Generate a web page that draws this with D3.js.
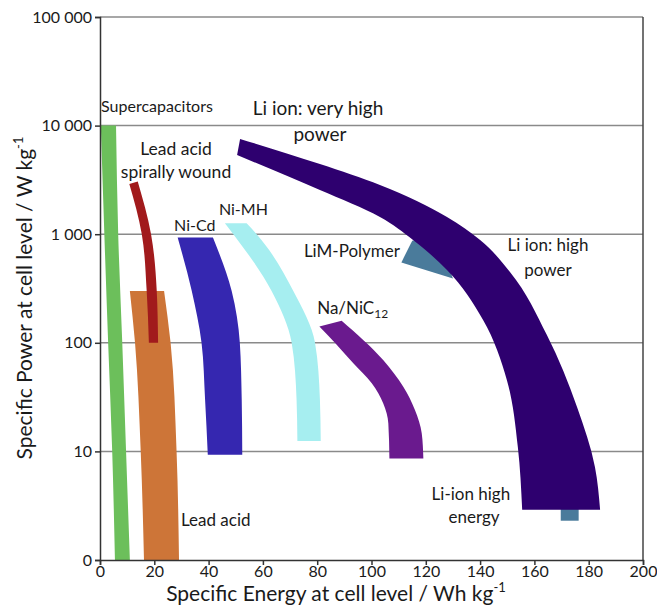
<!DOCTYPE html>
<html>
<head>
<meta charset="utf-8">
<script src="https://cdn.jsdelivr.net/npm/d3@7/dist/d3.min.js"></script>
<style>
  body { margin: 0; background: #fff; }
  text { font-family: Lato, "Liberation Sans", sans-serif; fill: #1a1a1a; }
</style>
</head>
<body>
<script>
// Ragone plot: each technology is a band, [energy Wh/kg, power W/kg] along both edges
const supercapLeft  = [[0.3, 10000], [1.6, 1000], [3.0, 100], [4.5, 10], [5.5, 1]];
const supercapRight = [[5.9, 10000], [6.7, 1000], [8.2, 100], [9.6, 10], [11.0, 1]];

const leadAcidLeft  = [[11.0, 300], [12.9, 100], [15.0, 10], [16.2, 1]];
const leadAcidRight = [[23.6, 300], [26.0, 100], [28.2, 10], [29.1, 1]];

const spiralLeft  = [[10.8, 2900], [15.4, 1000], [17.2, 300], [18.0, 100]];
const spiralRight = [[13.9, 3050], [18.8, 1000], [20.9, 300], [21.4, 100]];

const niCdLeft  = [[28.6, 930], [33.8, 300], [37.4, 100], [38.7, 30], [39.7, 9.3]];
const niCdRight = [[41.6, 930], [48.5, 300], [51.5, 100], [52.2, 30], [52.4, 9.3]];

const niMhLeft  = [[46.0, 1260], [49.1, 1000], [63.2, 300], [70.6, 100], [72.4, 30], [72.7, 12.5]];
const niMhRight = [[54.0, 1260], [57.7, 1000], [71.2, 300], [79.2, 100], [81.0, 30], [81.3, 12.5]];

const naNiLeft  = [[80.8, 141], [86.6, 99.5], [93.3, 64.7], [100.1, 42.4], [104.3, 27.7], [106.2, 18.1], [106.6, 8.6]];
const naNiRight = [[89.0, 160], [104.3, 69.5], [111.7, 39.4], [116.0, 24.1], [118.5, 14.7], [119.1, 8.6]];

const liPolymer = [[111, 550], [115, 870], [124, 1000], [130, 390]];
const liHighEnergy = [[169.7, 2.3], [176.3, 2.3], [176.3, 3.2], [169.7, 3.2]];

const liIonOuter = [[51.6, 7530], [81.0, 4420], [103.1, 2840], [127.8, 1440], [140.0, 885],
                    [151.0, 449], [164.6, 118], [175.7, 25.6], [182.3, 7.2], [184.2, 2.9]];
const liIonInner = [[50.5, 5360], [81.0, 2550], [103.1, 1440], [115.3, 885], [127.8, 468],
                    [141.1, 162], [149.9, 45], [153.9, 11], [155.5, 2.9]];

const xTicks = [0, 20, 40, 60, 80, 100, 120, 140, 160, 180, 200];
const yTicks = [1, 10, 100, 1000, 10000, 100000];
const yTickLabels = ["0", "10", "100", "1 000", "10 000", "100 000"];

const width = 657, height = 606;
const margin = {top: 17, right: 14, bottom: 46, left: 100};

const svg = d3.select("body").append("svg")
  .attr("width", width)
  .attr("height", height);

const x = d3.scaleLinear().domain([0, 200]).range([margin.left, width - margin.right]);
const y = d3.scaleLog().domain([1, 100000]).range([height - margin.bottom, margin.top]);

// gridlines
svg.append("g")
  .selectAll("line")
  .data(yTicks.slice(1))
  .enter().append("line")
  .attr("x1", x(0)).attr("x2", x(200))
  .attr("y1", d => y(d)).attr("y2", d => y(d))
  .attr("stroke", "#8a8a8a")
  .attr("stroke-width", 1.5);

// right border
svg.append("line")
  .attr("x1", x(200)).attr("x2", x(200))
  .attr("y1", y(1)).attr("y2", y(100000))
  .attr("stroke", "#444").attr("stroke-width", 1.5);

const edge = d3.line()
  .x(d => x(d[0]))
  .y(d => y(d[1]))
  .curve(d3.curveMonotoneY);

const flat = d3.line().x(d => x(d[0])).y(d => y(d[1]));

function band(left, right) {
  return edge(left) + "L" + edge(right.slice().reverse()).slice(1) + "Z";
}

const bands = [
  {left: supercapLeft, right: supercapRight, color: "#6cbf5b"},
  {left: leadAcidLeft, right: leadAcidRight, color: "#cd7538"},
  {left: spiralLeft, right: spiralRight, color: "#a11a1c"},
  {left: niCdLeft, right: niCdRight, color: "#3527b0"},
  {left: niMhLeft, right: niMhRight, color: "#a6eef0"},
  {left: naNiLeft, right: naNiRight, color: "#6a1a8e"}
];

svg.append("g")
  .selectAll("path")
  .data(bands)
  .enter().append("path")
  .attr("d", d => band(d.left, d.right))
  .attr("fill", d => d.color);

svg.append("path").attr("d", flat(liPolymer) + "Z").attr("fill", "#4a7b9b");
svg.append("path").attr("d", flat(liHighEnergy) + "Z").attr("fill", "#4a7b9b");
svg.append("path").attr("d", band(liIonOuter, liIonInner)).attr("fill", "#2e006f");

// axes
const yAxis = svg.append("g")
  .attr("transform", `translate(${x(0)},0)`)
  .call(d3.axisLeft(y).tickValues(yTicks).tickFormat((d, i) => yTickLabels[i]).tickSize(5).tickPadding(3));

const xAxis = svg.append("g")
  .attr("transform", `translate(0,${y(1)})`)
  .call(d3.axisBottom(x).tickValues(xTicks).tickSize(5).tickPadding(1));

[yAxis, xAxis].forEach(g => {
  g.select(".domain").attr("stroke", "#333").attr("stroke-width", 1.5);
  g.selectAll(".tick line").attr("stroke", "#333").attr("stroke-width", 1.5);
  g.selectAll(".tick text")
    .style("font-family", "Lato, 'Liberation Sans', sans-serif")
    .style("font-size", "16px")
    .attr("fill", "#1a1a1a");
});

// axis titles
const xt = svg.append("text")
  .attr("x", 336).attr("y", 601)
  .attr("text-anchor", "middle")
  .style("font-size", "21px")
  .text("Specific Energy at cell level / Wh kg");
xt.append("tspan").attr("dy", -9).style("font-size", "13px").text("-1");

const yt = svg.append("text")
  .attr("transform", "translate(32,298) rotate(-90)")
  .attr("text-anchor", "middle")
  .style("font-size", "21px")
  .text("Specific Power at cell level / W kg");
yt.append("tspan").attr("dy", -9).style("font-size", "13px").text("-1");

// band labels
const labels = [
  {t: "Supercapacitors", e: 0.4, p: 13300, a: "start", s: 16},
  {t: "Lead acid", e: 28, p: 5360, a: "middle", s: 17.5},
  {t: "spirally wound", e: 28, p: 3290, a: "middle", s: 17.5},
  {t: "Ni-Cd", e: 27.3, p: 1070, a: "start", s: 16},
  {t: "Ni-MH", e: 43.8, p: 1500, a: "start", s: 16},
  {t: "Li ion: very high", e: 80.3, p: 12500, a: "middle", s: 19},
  {t: "power", e: 81, p: 7220, a: "middle", s: 19},
  {t: "LiM-Polymer", e: 110.5, p: 617, a: "end", s: 17},
  {t: "Li ion: high", e: 165, p: 700, a: "middle", s: 17},
  {t: "power", e: 165, p: 412, a: "middle", s: 17},
  {t: "Li-ion high", e: 136.6, p: 3.57, a: "middle", s: 17},
  {t: "energy", e: 137.8, p: 2.19, a: "middle", s: 17},
  {t: "Lead acid", e: 29.8, p: 2.06, a: "start", s: 17}
];

svg.append("g")
  .selectAll("text")
  .data(labels)
  .enter().append("text")
  .attr("x", d => x(d.e))
  .attr("y", d => y(d.p))
  .attr("text-anchor", d => d.a)
  .style("font-size", d => d.s + "px")
  .text(d => d.t);

const na = svg.append("text")
  .attr("x", x(80)).attr("y", y(184))
  .style("font-size", "17px")
  .text("Na/NiC");
na.append("tspan").attr("dy", 4).style("font-size", "12px").text("12");
</script>
</body>
</html>
